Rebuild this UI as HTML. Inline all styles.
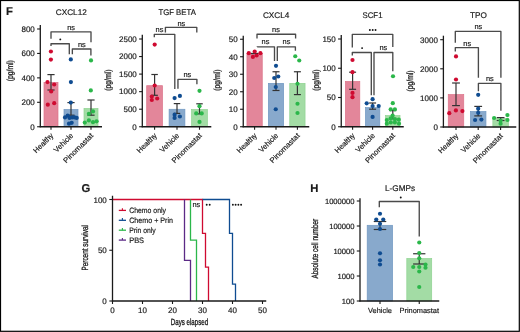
<!DOCTYPE html>
<html><head><meta charset="utf-8"><style>
html,body{margin:0;padding:0;background:#fff;}
body{width:520px;height:332px;overflow:hidden;}
svg{display:block;will-change:transform;}
text{font-family:"Liberation Sans",sans-serif;text-rendering:geometricPrecision;stroke:#1a1a1a;stroke-width:0.18px;}
</style></head><body>
<svg width="520" height="332" viewBox="0 0 520 332">
<rect x="0" y="0" width="520" height="332" fill="#fff"/>
<rect x="44.0" y="82.3748" width="14.0" height="44.37520000000001" fill="#e3869a" stroke="#dc7389" stroke-width="0.7"/>
<rect x="64.0" y="109.50319999999999" width="14.0" height="17.246800000000007" fill="#88a9cc" stroke="#7098c2" stroke-width="0.7"/>
<rect x="84.0" y="108.45228" width="14.0" height="18.297719999999998" fill="#a3dca5" stroke="#8fd391" stroke-width="0.7"/>
<line x1="51" y1="74.6" x2="51" y2="90.0" stroke="#333333" stroke-width="1.2" />
<line x1="47.4" y1="74.6" x2="54.6" y2="74.6" stroke="#333333" stroke-width="1.2" />
<line x1="47.4" y1="90.0" x2="54.6" y2="90.0" stroke="#333333" stroke-width="1.2" />
<line x1="71" y1="102.6" x2="71" y2="115.2" stroke="#333333" stroke-width="1.2" />
<line x1="67.4" y1="102.6" x2="74.6" y2="102.6" stroke="#333333" stroke-width="1.2" />
<line x1="67.4" y1="115.2" x2="74.6" y2="115.2" stroke="#333333" stroke-width="1.2" />
<line x1="91" y1="100.0" x2="91" y2="115.2" stroke="#333333" stroke-width="1.2" />
<line x1="87.4" y1="100.0" x2="94.6" y2="100.0" stroke="#333333" stroke-width="1.2" />
<line x1="87.4" y1="115.2" x2="94.6" y2="115.2" stroke="#333333" stroke-width="1.2" />
<circle cx="50.9" cy="51.5" r="2.1" fill="#cf0a30"/>
<circle cx="50.9" cy="59.6" r="2.1" fill="#cf0a30"/>
<circle cx="47.5" cy="82.1" r="2.1" fill="#cf0a30"/>
<circle cx="54.2" cy="84.5" r="2.1" fill="#cf0a30"/>
<circle cx="51.2" cy="91.4" r="2.1" fill="#cf0a30"/>
<circle cx="47.8" cy="104.7" r="2.1" fill="#cf0a30"/>
<circle cx="54.2" cy="103.2" r="2.1" fill="#cf0a30"/>
<circle cx="70.8" cy="59.4" r="2.1" fill="#0f4c91"/>
<circle cx="70.9" cy="82.1" r="2.1" fill="#0f4c91"/>
<circle cx="70.8" cy="102.6" r="2.1" fill="#0f4c91"/>
<circle cx="65" cy="117.4" r="2.1" fill="#0f4c91"/>
<circle cx="67.7" cy="115.6" r="2.1" fill="#0f4c91"/>
<circle cx="69.5" cy="117.9" r="2.1" fill="#0f4c91"/>
<circle cx="72.2" cy="117.4" r="2.1" fill="#0f4c91"/>
<circle cx="74.5" cy="117.4" r="2.1" fill="#0f4c91"/>
<circle cx="76.7" cy="117.9" r="2.1" fill="#0f4c91"/>
<circle cx="69" cy="123.7" r="2.1" fill="#0f4c91"/>
<circle cx="71.7" cy="122.8" r="2.1" fill="#0f4c91"/>
<circle cx="91" cy="60.4" r="2.1" fill="#2bb74a"/>
<circle cx="90.8" cy="90.4" r="2.1" fill="#2bb74a"/>
<circle cx="93" cy="111.4" r="2.1" fill="#2bb74a"/>
<circle cx="88.9" cy="113.8" r="2.1" fill="#2bb74a"/>
<circle cx="84.8" cy="122.6" r="2.1" fill="#2bb74a"/>
<circle cx="88.9" cy="120.4" r="2.1" fill="#2bb74a"/>
<circle cx="93" cy="122.2" r="2.1" fill="#2bb74a"/>
<circle cx="96.6" cy="121.3" r="2.1" fill="#2bb74a"/>
<line x1="40.3" y1="25" x2="40.3" y2="127.35" stroke="#1a1a1a" stroke-width="1.3" />
<line x1="39.699999999999996" y1="126.75" x2="102" y2="126.75" stroke="#1a1a1a" stroke-width="1.4" />
<line x1="37.099999999999994" y1="126.75" x2="40.3" y2="126.75" stroke="#1a1a1a" stroke-width="1.1" />
<text x="34.8" y="129.55" font-size="8.0" text-anchor="end" fill="#1a1a1a" font-weight="normal">0</text>
<line x1="37.099999999999994" y1="102.31" x2="40.3" y2="102.31" stroke="#1a1a1a" stroke-width="1.1" />
<text x="34.8" y="105.11" font-size="8.0" text-anchor="end" fill="#1a1a1a" font-weight="normal">200</text>
<line x1="37.099999999999994" y1="77.87" x2="40.3" y2="77.87" stroke="#1a1a1a" stroke-width="1.1" />
<text x="34.8" y="80.67" font-size="8.0" text-anchor="end" fill="#1a1a1a" font-weight="normal">400</text>
<line x1="37.099999999999994" y1="53.42999999999999" x2="40.3" y2="53.42999999999999" stroke="#1a1a1a" stroke-width="1.1" />
<text x="34.8" y="56.22999999999999" font-size="8.0" text-anchor="end" fill="#1a1a1a" font-weight="normal">600</text>
<line x1="37.099999999999994" y1="28.989999999999995" x2="40.3" y2="28.989999999999995" stroke="#1a1a1a" stroke-width="1.1" />
<text x="34.8" y="31.789999999999996" font-size="8.0" text-anchor="end" fill="#1a1a1a" font-weight="normal">800</text>
<line x1="51" y1="126.75" x2="51" y2="129.75" stroke="#1a1a1a" stroke-width="1.1" />
<line x1="71" y1="126.75" x2="71" y2="129.75" stroke="#1a1a1a" stroke-width="1.1" />
<line x1="91" y1="126.75" x2="91" y2="129.75" stroke="#1a1a1a" stroke-width="1.1" />
<path d="M51.0,38.8 V31.9 H91.0 V42.2" stroke="#4a4a4a" stroke-width="1.35" fill="none" stroke-linejoin="round"/>
<path d="M51.0,46 V43.7 H69.3 V54.3" stroke="#4a4a4a" stroke-width="1.35" fill="none" stroke-linejoin="round"/>
<path d="M72.35,54.3 V49.0 H90.9 V55.5" stroke="#4a4a4a" stroke-width="1.35" fill="none" stroke-linejoin="round"/>
<text x="71.1" y="29.5" font-size="7.4" text-anchor="middle" fill="#1a1a1a" font-weight="normal">ns</text>
<circle cx="60.30" cy="39.4" r="0.95" fill="#111"/>
<text x="81.8" y="46.6" font-size="7.4" text-anchor="middle" fill="#1a1a1a" font-weight="normal">ns</text>
<text x="71.3" y="14.5" font-size="8.2" text-anchor="middle" fill="#1a1a1a" font-weight="normal">CXCL12</text>
<text x="0" y="0" font-size="8.8" text-anchor="middle" fill="#1a1a1a" textLength="21.2" lengthAdjust="spacingAndGlyphs" transform="translate(13.4,70.75) rotate(-90)" style="stroke-width:0.32px">(pg/ml)</text>
<text x="0" y="0" font-size="7.5" text-anchor="end" fill="#1a1a1a" textLength="24.8" lengthAdjust="spacingAndGlyphs" transform="translate(53.8,136.05) rotate(-45)">Healthy</text>
<text x="0" y="0" font-size="7.5" text-anchor="end" fill="#1a1a1a" textLength="24.0" lengthAdjust="spacingAndGlyphs" transform="translate(73.8,136.05) rotate(-45)">Vehicle</text>
<text x="0" y="0" font-size="7.5" text-anchor="end" fill="#1a1a1a" textLength="38.8" lengthAdjust="spacingAndGlyphs" transform="translate(93.8,136.05) rotate(-45)">Pinomastat</text>
<rect x="146.7" y="85.68199999999999" width="15.8" height="41.06800000000001" fill="#e3869a" stroke="#dc7389" stroke-width="0.7"/>
<rect x="169.1" y="109.2692" width="15.8" height="17.480800000000002" fill="#88a9cc" stroke="#7098c2" stroke-width="0.7"/>
<rect x="191.6" y="109.55" width="15.8" height="17.200000000000003" fill="#a3dca5" stroke="#8fd391" stroke-width="0.7"/>
<line x1="154.6" y1="74.5" x2="154.6" y2="95.3" stroke="#333333" stroke-width="1.2" />
<line x1="151.35" y1="74.5" x2="157.85" y2="74.5" stroke="#333333" stroke-width="1.2" />
<line x1="151.35" y1="95.3" x2="157.85" y2="95.3" stroke="#333333" stroke-width="1.2" />
<line x1="177" y1="103.6" x2="177" y2="113.4" stroke="#333333" stroke-width="1.2" />
<line x1="173.75" y1="103.6" x2="180.25" y2="103.6" stroke="#333333" stroke-width="1.2" />
<line x1="173.75" y1="113.4" x2="180.25" y2="113.4" stroke="#333333" stroke-width="1.2" />
<line x1="199.5" y1="103.8" x2="199.5" y2="113.9" stroke="#333333" stroke-width="1.2" />
<line x1="196.25" y1="103.8" x2="202.75" y2="103.8" stroke="#333333" stroke-width="1.2" />
<line x1="196.25" y1="113.9" x2="202.75" y2="113.9" stroke="#333333" stroke-width="1.2" />
<circle cx="154.7" cy="44.6" r="2.1" fill="#cf0a30"/>
<circle cx="154.7" cy="85.5" r="2.1" fill="#cf0a30"/>
<circle cx="151.8" cy="96.6" r="2.1" fill="#cf0a30"/>
<circle cx="157.2" cy="98.5" r="2.1" fill="#cf0a30"/>
<circle cx="151.8" cy="100" r="2.1" fill="#cf0a30"/>
<circle cx="174.6" cy="98.1" r="2.1" fill="#0f4c91"/>
<circle cx="179.9" cy="95.9" r="2.1" fill="#0f4c91"/>
<circle cx="174.6" cy="114.7" r="2.1" fill="#0f4c91"/>
<circle cx="179.9" cy="116.5" r="2.1" fill="#0f4c91"/>
<circle cx="174.6" cy="117.9" r="2.1" fill="#0f4c91"/>
<circle cx="199.5" cy="90.8" r="2.1" fill="#2bb74a"/>
<circle cx="199.5" cy="106.2" r="2.1" fill="#2bb74a"/>
<circle cx="196.2" cy="113.4" r="2.1" fill="#2bb74a"/>
<circle cx="201.7" cy="113.4" r="2.1" fill="#2bb74a"/>
<circle cx="199.5" cy="121.9" r="2.1" fill="#2bb74a"/>
<line x1="142.3" y1="34.8" x2="142.3" y2="127.35" stroke="#1a1a1a" stroke-width="1.3" />
<line x1="141.70000000000002" y1="126.75" x2="211.3" y2="126.75" stroke="#1a1a1a" stroke-width="1.4" />
<line x1="139.10000000000002" y1="126.75" x2="142.3" y2="126.75" stroke="#1a1a1a" stroke-width="1.1" />
<text x="136.8" y="129.55" font-size="8.0" text-anchor="end" fill="#1a1a1a" font-weight="normal">0</text>
<line x1="139.10000000000002" y1="109.2" x2="142.3" y2="109.2" stroke="#1a1a1a" stroke-width="1.1" />
<text x="136.8" y="112.0" font-size="8.0" text-anchor="end" fill="#1a1a1a" font-weight="normal">500</text>
<line x1="139.10000000000002" y1="91.65" x2="142.3" y2="91.65" stroke="#1a1a1a" stroke-width="1.1" />
<text x="136.8" y="94.45" font-size="8.0" text-anchor="end" fill="#1a1a1a" font-weight="normal">1000</text>
<line x1="139.10000000000002" y1="74.1" x2="142.3" y2="74.1" stroke="#1a1a1a" stroke-width="1.1" />
<text x="136.8" y="76.89999999999999" font-size="8.0" text-anchor="end" fill="#1a1a1a" font-weight="normal">1500</text>
<line x1="139.10000000000002" y1="56.55" x2="142.3" y2="56.55" stroke="#1a1a1a" stroke-width="1.1" />
<text x="136.8" y="59.349999999999994" font-size="8.0" text-anchor="end" fill="#1a1a1a" font-weight="normal">2000</text>
<line x1="139.10000000000002" y1="39.0" x2="142.3" y2="39.0" stroke="#1a1a1a" stroke-width="1.1" />
<text x="136.8" y="41.8" font-size="8.0" text-anchor="end" fill="#1a1a1a" font-weight="normal">2500</text>
<line x1="154.6" y1="126.75" x2="154.6" y2="129.75" stroke="#1a1a1a" stroke-width="1.1" />
<line x1="177" y1="126.75" x2="177" y2="129.75" stroke="#1a1a1a" stroke-width="1.1" />
<line x1="199.5" y1="126.75" x2="199.5" y2="129.75" stroke="#1a1a1a" stroke-width="1.1" />
<path d="M154.3,37.2 V34.3 H174.8 V89.0" stroke="#4a4a4a" stroke-width="1.35" fill="none" stroke-linejoin="round"/>
<path d="M165.4,32.4 V27.3 H196.8 V32.4" stroke="#4a4a4a" stroke-width="1.35" fill="none" stroke-linejoin="round"/>
<path d="M177.95,88.8 V79.3 H196.9 V84.3" stroke="#4a4a4a" stroke-width="1.35" fill="none" stroke-linejoin="round"/>
<text x="159.5" y="32.1" font-size="7.4" text-anchor="middle" fill="#1a1a1a" font-weight="normal">ns</text>
<text x="181.4" y="25.6" font-size="7.4" text-anchor="middle" fill="#1a1a1a" font-weight="normal">ns</text>
<text x="187.3" y="77.2" font-size="7.4" text-anchor="middle" fill="#1a1a1a" font-weight="normal">ns</text>
<text x="0" y="0" font-size="8.2" text-anchor="middle" fill="#1a1a1a" textLength="37.4" lengthAdjust="spacingAndGlyphs" transform="translate(177.1,14.8) rotate(0)">TGF BETA</text>
<text x="0" y="0" font-size="8.8" text-anchor="middle" fill="#1a1a1a" textLength="21.2" lengthAdjust="spacingAndGlyphs" transform="translate(111.4,80.2) rotate(-90)" style="stroke-width:0.32px">(pg/ml)</text>
<text x="0" y="0" font-size="7.5" text-anchor="end" fill="#1a1a1a" textLength="24.8" lengthAdjust="spacingAndGlyphs" transform="translate(157.4,136.05) rotate(-45)">Healthy</text>
<text x="0" y="0" font-size="7.5" text-anchor="end" fill="#1a1a1a" textLength="24.0" lengthAdjust="spacingAndGlyphs" transform="translate(179.8,136.05) rotate(-45)">Vehicle</text>
<text x="0" y="0" font-size="7.5" text-anchor="end" fill="#1a1a1a" textLength="38.8" lengthAdjust="spacingAndGlyphs" transform="translate(202.3,136.05) rotate(-45)">Pinomastat</text>
<rect x="246.95" y="53.6" width="15.3" height="73.15" fill="#e3869a" stroke="#dc7389" stroke-width="0.7"/>
<rect x="268.35" y="83.35" width="15.3" height="43.400000000000006" fill="#88a9cc" stroke="#7098c2" stroke-width="0.7"/>
<rect x="289.75" y="83.35" width="15.3" height="43.400000000000006" fill="#a3dca5" stroke="#8fd391" stroke-width="0.7"/>
<line x1="254.6" y1="53.5" x2="254.6" y2="53.5" stroke="#333333" stroke-width="1.2" />
<line x1="251.1" y1="53.5" x2="258.1" y2="53.5" stroke="#333333" stroke-width="1.2" />
<line x1="251.1" y1="53.5" x2="258.1" y2="53.5" stroke="#333333" stroke-width="1.2" />
<line x1="276" y1="71.75" x2="276" y2="90.5" stroke="#333333" stroke-width="1.2" />
<line x1="272.5" y1="71.75" x2="279.5" y2="71.75" stroke="#333333" stroke-width="1.2" />
<line x1="272.5" y1="90.5" x2="279.5" y2="90.5" stroke="#333333" stroke-width="1.2" />
<line x1="297.4" y1="71.75" x2="297.4" y2="94.6" stroke="#333333" stroke-width="1.2" />
<line x1="293.9" y1="71.75" x2="300.9" y2="71.75" stroke="#333333" stroke-width="1.2" />
<line x1="293.9" y1="94.6" x2="300.9" y2="94.6" stroke="#333333" stroke-width="1.2" />
<circle cx="248.8" cy="53.2" r="2.1" fill="#cf0a30"/>
<circle cx="254.7" cy="51.5" r="2.1" fill="#cf0a30"/>
<circle cx="260.4" cy="53.2" r="2.1" fill="#cf0a30"/>
<circle cx="252.9" cy="56.9" r="2.1" fill="#cf0a30"/>
<circle cx="256.6" cy="55.5" r="2.1" fill="#cf0a30"/>
<circle cx="276" cy="65.8" r="2.1" fill="#0f4c91"/>
<circle cx="274.25" cy="78" r="2.1" fill="#0f4c91"/>
<circle cx="278.25" cy="76.5" r="2.1" fill="#0f4c91"/>
<circle cx="275.75" cy="87" r="2.1" fill="#0f4c91"/>
<circle cx="275.75" cy="109.25" r="2.1" fill="#0f4c91"/>
<circle cx="295.25" cy="56.25" r="2.1" fill="#2bb74a"/>
<circle cx="299.25" cy="60.5" r="2.1" fill="#2bb74a"/>
<circle cx="297.5" cy="83.75" r="2.1" fill="#2bb74a"/>
<circle cx="297.5" cy="103.75" r="2.1" fill="#2bb74a"/>
<circle cx="297.5" cy="113" r="2.1" fill="#2bb74a"/>
<line x1="243.25" y1="35.75" x2="243.25" y2="127.35" stroke="#1a1a1a" stroke-width="1.3" />
<line x1="242.65" y1="126.75" x2="309.25" y2="126.75" stroke="#1a1a1a" stroke-width="1.4" />
<line x1="240.05" y1="126.75" x2="243.25" y2="126.75" stroke="#1a1a1a" stroke-width="1.1" />
<text x="237.75" y="129.55" font-size="8.0" text-anchor="end" fill="#1a1a1a" font-weight="normal">0</text>
<line x1="240.05" y1="109.25" x2="243.25" y2="109.25" stroke="#1a1a1a" stroke-width="1.1" />
<text x="237.75" y="112.05" font-size="8.0" text-anchor="end" fill="#1a1a1a" font-weight="normal">10</text>
<line x1="240.05" y1="91.75" x2="243.25" y2="91.75" stroke="#1a1a1a" stroke-width="1.1" />
<text x="237.75" y="94.55" font-size="8.0" text-anchor="end" fill="#1a1a1a" font-weight="normal">20</text>
<line x1="240.05" y1="74.25" x2="243.25" y2="74.25" stroke="#1a1a1a" stroke-width="1.1" />
<text x="237.75" y="77.05" font-size="8.0" text-anchor="end" fill="#1a1a1a" font-weight="normal">30</text>
<line x1="240.05" y1="56.75" x2="243.25" y2="56.75" stroke="#1a1a1a" stroke-width="1.1" />
<text x="237.75" y="59.55" font-size="8.0" text-anchor="end" fill="#1a1a1a" font-weight="normal">40</text>
<line x1="240.05" y1="39.25" x2="243.25" y2="39.25" stroke="#1a1a1a" stroke-width="1.1" />
<text x="237.75" y="42.05" font-size="8.0" text-anchor="end" fill="#1a1a1a" font-weight="normal">50</text>
<line x1="254.6" y1="126.75" x2="254.6" y2="129.75" stroke="#1a1a1a" stroke-width="1.1" />
<line x1="276" y1="126.75" x2="276" y2="129.75" stroke="#1a1a1a" stroke-width="1.1" />
<line x1="297.4" y1="126.75" x2="297.4" y2="129.75" stroke="#1a1a1a" stroke-width="1.1" />
<path d="M257,38.6 V34.2 H295.6 V38.6" stroke="#4a4a4a" stroke-width="1.35" fill="none" stroke-linejoin="round"/>
<path d="M257.2,47.0 V46.8 H274.5 V61" stroke="#4a4a4a" stroke-width="1.35" fill="none" stroke-linejoin="round"/>
<path d="M277.3,61 V46.8 H295.4 V50.8" stroke="#4a4a4a" stroke-width="1.35" fill="none" stroke-linejoin="round"/>
<text x="276" y="32.2" font-size="7.4" text-anchor="middle" fill="#1a1a1a" font-weight="normal">ns</text>
<text x="265.5" y="44.4" font-size="7.4" text-anchor="middle" fill="#1a1a1a" font-weight="normal">ns</text>
<text x="286.5" y="44.4" font-size="7.4" text-anchor="middle" fill="#1a1a1a" font-weight="normal">ns</text>
<text x="276.1" y="17.9" font-size="8.2" text-anchor="middle" fill="#1a1a1a" font-weight="normal">CXCL4</text>
<text x="0" y="0" font-size="8.8" text-anchor="middle" fill="#1a1a1a" textLength="21.2" lengthAdjust="spacingAndGlyphs" transform="translate(220.4,80.2) rotate(-90)" style="stroke-width:0.32px">(pg/ml)</text>
<text x="0" y="0" font-size="7.5" text-anchor="end" fill="#1a1a1a" textLength="24.8" lengthAdjust="spacingAndGlyphs" transform="translate(257.4,136.05) rotate(-45)">Healthy</text>
<text x="0" y="0" font-size="7.5" text-anchor="end" fill="#1a1a1a" textLength="24.0" lengthAdjust="spacingAndGlyphs" transform="translate(278.8,136.05) rotate(-45)">Vehicle</text>
<text x="0" y="0" font-size="7.5" text-anchor="end" fill="#1a1a1a" textLength="38.8" lengthAdjust="spacingAndGlyphs" transform="translate(300.2,136.05) rotate(-45)">Pinomastat</text>
<rect x="345.40000000000003" y="81.47" width="14.4" height="45.28" fill="#e3869a" stroke="#dc7389" stroke-width="0.7"/>
<rect x="365.40000000000003" y="107.6195" width="14.4" height="19.130499999999998" fill="#88a9cc" stroke="#7098c2" stroke-width="0.7"/>
<rect x="385.6" y="115.57549999999999" width="14.4" height="11.174500000000009" fill="#a3dca5" stroke="#8fd391" stroke-width="0.7"/>
<line x1="352.6" y1="72.2" x2="352.6" y2="89.3" stroke="#333333" stroke-width="1.2" />
<line x1="349.1" y1="72.2" x2="356.1" y2="72.2" stroke="#333333" stroke-width="1.2" />
<line x1="349.1" y1="89.3" x2="356.1" y2="89.3" stroke="#333333" stroke-width="1.2" />
<line x1="372.6" y1="103" x2="372.6" y2="109.2" stroke="#333333" stroke-width="1.2" />
<line x1="369.1" y1="103" x2="376.1" y2="103" stroke="#333333" stroke-width="1.2" />
<line x1="369.1" y1="109.2" x2="376.1" y2="109.2" stroke="#333333" stroke-width="1.2" />
<line x1="392.8" y1="110.6" x2="392.8" y2="118.8" stroke="#333333" stroke-width="1.2" />
<line x1="389.3" y1="110.6" x2="396.3" y2="110.6" stroke="#333333" stroke-width="1.2" />
<line x1="389.3" y1="118.8" x2="396.3" y2="118.8" stroke="#333333" stroke-width="1.2" />
<circle cx="352.5" cy="60" r="2.1" fill="#cf0a30"/>
<circle cx="352.5" cy="72.2" r="2.1" fill="#cf0a30"/>
<circle cx="352.5" cy="92.9" r="2.1" fill="#cf0a30"/>
<circle cx="352.5" cy="97.2" r="2.1" fill="#cf0a30"/>
<circle cx="372.6" cy="99.2" r="2.1" fill="#0f4c91"/>
<circle cx="366.7" cy="103.3" r="2.1" fill="#0f4c91"/>
<circle cx="372.6" cy="106" r="2.1" fill="#0f4c91"/>
<circle cx="378.7" cy="106" r="2.1" fill="#0f4c91"/>
<circle cx="372.6" cy="116.9" r="2.1" fill="#0f4c91"/>
<circle cx="393" cy="76.25" r="2.1" fill="#2bb74a"/>
<circle cx="392.8" cy="103.2" r="2.1" fill="#2bb74a"/>
<circle cx="390.7" cy="109.3" r="2.1" fill="#2bb74a"/>
<circle cx="394.9" cy="109.3" r="2.1" fill="#2bb74a"/>
<circle cx="392.6" cy="115.6" r="2.1" fill="#2bb74a"/>
<circle cx="386.8" cy="120.1" r="2.1" fill="#2bb74a"/>
<circle cx="390.7" cy="118.3" r="2.1" fill="#2bb74a"/>
<circle cx="394.9" cy="119.2" r="2.1" fill="#2bb74a"/>
<circle cx="398.8" cy="119.7" r="2.1" fill="#2bb74a"/>
<circle cx="386.8" cy="123.7" r="2.1" fill="#2bb74a"/>
<circle cx="390.8" cy="122.4" r="2.1" fill="#2bb74a"/>
<circle cx="394.9" cy="122.4" r="2.1" fill="#2bb74a"/>
<circle cx="399" cy="123.7" r="2.1" fill="#2bb74a"/>
<line x1="341.25" y1="35" x2="341.25" y2="127.35" stroke="#1a1a1a" stroke-width="1.3" />
<line x1="340.65" y1="126.75" x2="403.75" y2="126.75" stroke="#1a1a1a" stroke-width="1.4" />
<line x1="338.05" y1="126.75" x2="341.25" y2="126.75" stroke="#1a1a1a" stroke-width="1.1" />
<text x="335.75" y="129.55" font-size="8.0" text-anchor="end" fill="#1a1a1a" font-weight="normal">0</text>
<line x1="338.05" y1="97.5" x2="341.25" y2="97.5" stroke="#1a1a1a" stroke-width="1.1" />
<text x="335.75" y="100.3" font-size="8.0" text-anchor="end" fill="#1a1a1a" font-weight="normal">50</text>
<line x1="338.05" y1="68.25" x2="341.25" y2="68.25" stroke="#1a1a1a" stroke-width="1.1" />
<text x="335.75" y="71.05" font-size="8.0" text-anchor="end" fill="#1a1a1a" font-weight="normal">100</text>
<line x1="338.05" y1="39.0" x2="341.25" y2="39.0" stroke="#1a1a1a" stroke-width="1.1" />
<text x="335.75" y="41.8" font-size="8.0" text-anchor="end" fill="#1a1a1a" font-weight="normal">150</text>
<line x1="352.6" y1="126.75" x2="352.6" y2="129.75" stroke="#1a1a1a" stroke-width="1.1" />
<line x1="372.6" y1="126.75" x2="372.6" y2="129.75" stroke="#1a1a1a" stroke-width="1.1" />
<line x1="392.8" y1="126.75" x2="392.8" y2="129.75" stroke="#1a1a1a" stroke-width="1.1" />
<path d="M352.3,47.6 V34.3 H392.8 V47.1" stroke="#4a4a4a" stroke-width="1.35" fill="none" stroke-linejoin="round"/>
<path d="M352.3,55.5 V52.5 H371.3 V95.2" stroke="#4a4a4a" stroke-width="1.35" fill="none" stroke-linejoin="round"/>
<path d="M374.0,95.2 V52.5 H392.8 V71.25" stroke="#4a4a4a" stroke-width="1.35" fill="none" stroke-linejoin="round"/>
<circle cx="369.85" cy="30" r="0.95" fill="#111"/>
<circle cx="372.70" cy="30" r="0.95" fill="#111"/>
<circle cx="375.55" cy="30" r="0.95" fill="#111"/>
<circle cx="362.10" cy="48.1" r="0.95" fill="#111"/>
<text x="383.3" y="50.2" font-size="7.4" text-anchor="middle" fill="#1a1a1a" font-weight="normal">ns</text>
<text x="0" y="0" font-size="8.2" text-anchor="middle" fill="#1a1a1a" textLength="20.0" lengthAdjust="spacingAndGlyphs" transform="translate(372.5,17.7) rotate(0)">SCF1</text>
<text x="0" y="0" font-size="8.8" text-anchor="middle" fill="#1a1a1a" textLength="21.2" lengthAdjust="spacingAndGlyphs" transform="translate(318.8,80.2) rotate(-90)" style="stroke-width:0.32px">(pg/ml)</text>
<text x="0" y="0" font-size="7.5" text-anchor="end" fill="#1a1a1a" textLength="24.8" lengthAdjust="spacingAndGlyphs" transform="translate(355.40000000000003,136.05) rotate(-45)">Healthy</text>
<text x="0" y="0" font-size="7.5" text-anchor="end" fill="#1a1a1a" textLength="24.0" lengthAdjust="spacingAndGlyphs" transform="translate(375.40000000000003,136.05) rotate(-45)">Vehicle</text>
<text x="0" y="0" font-size="7.5" text-anchor="end" fill="#1a1a1a" textLength="38.8" lengthAdjust="spacingAndGlyphs" transform="translate(395.6,136.05) rotate(-45)">Pinomastat</text>
<rect x="448.25" y="94.55" width="15.5" height="32.45" fill="#e3869a" stroke="#dc7389" stroke-width="0.7"/>
<rect x="470.45" y="111.55" width="15.5" height="15.450000000000003" fill="#88a9cc" stroke="#7098c2" stroke-width="0.7"/>
<rect x="492.85" y="118.55" width="15.5" height="8.450000000000003" fill="#a3dca5" stroke="#8fd391" stroke-width="0.7"/>
<line x1="456" y1="83" x2="456" y2="105.6" stroke="#333333" stroke-width="1.2" />
<line x1="452.1" y1="83" x2="459.9" y2="83" stroke="#333333" stroke-width="1.2" />
<line x1="452.1" y1="105.6" x2="459.9" y2="105.6" stroke="#333333" stroke-width="1.2" />
<line x1="478.2" y1="106.4" x2="478.2" y2="115.9" stroke="#333333" stroke-width="1.2" />
<line x1="474.3" y1="106.4" x2="482.09999999999997" y2="106.4" stroke="#333333" stroke-width="1.2" />
<line x1="474.3" y1="115.9" x2="482.09999999999997" y2="115.9" stroke="#333333" stroke-width="1.2" />
<line x1="500.6" y1="117.6" x2="500.6" y2="120.5" stroke="#333333" stroke-width="1.2" />
<line x1="496.70000000000005" y1="117.6" x2="504.5" y2="117.6" stroke="#333333" stroke-width="1.2" />
<line x1="496.70000000000005" y1="120.5" x2="504.5" y2="120.5" stroke="#333333" stroke-width="1.2" />
<circle cx="456" cy="56.4" r="2.1" fill="#cf0a30"/>
<circle cx="456" cy="79.5" r="2.1" fill="#cf0a30"/>
<circle cx="449.3" cy="113.2" r="2.1" fill="#cf0a30"/>
<circle cx="455.9" cy="110.4" r="2.1" fill="#cf0a30"/>
<circle cx="462.4" cy="111.1" r="2.1" fill="#cf0a30"/>
<circle cx="478.2" cy="94.8" r="2.1" fill="#0f4c91"/>
<circle cx="478.2" cy="108.7" r="2.1" fill="#0f4c91"/>
<circle cx="478.2" cy="112.8" r="2.1" fill="#0f4c91"/>
<circle cx="475.1" cy="120" r="2.1" fill="#0f4c91"/>
<circle cx="481.4" cy="119.6" r="2.1" fill="#0f4c91"/>
<circle cx="494.1" cy="118" r="2.1" fill="#2bb74a"/>
<circle cx="507.4" cy="115.1" r="2.1" fill="#2bb74a"/>
<circle cx="507.4" cy="120" r="2.1" fill="#2bb74a"/>
<circle cx="500.6" cy="120.5" r="2.1" fill="#2bb74a"/>
<circle cx="500.6" cy="123.7" r="2.1" fill="#2bb74a"/>
<line x1="443.4" y1="35.7" x2="443.4" y2="127.6" stroke="#1a1a1a" stroke-width="1.3" />
<line x1="442.79999999999995" y1="127.0" x2="516.25" y2="127.0" stroke="#1a1a1a" stroke-width="1.4" />
<line x1="440.2" y1="127.0" x2="443.4" y2="127.0" stroke="#1a1a1a" stroke-width="1.1" />
<text x="437.9" y="129.8" font-size="8.0" text-anchor="end" fill="#1a1a1a" font-weight="normal">0</text>
<line x1="440.2" y1="97.9" x2="443.4" y2="97.9" stroke="#1a1a1a" stroke-width="1.1" />
<text x="437.9" y="100.7" font-size="8.0" text-anchor="end" fill="#1a1a1a" font-weight="normal">1000</text>
<line x1="440.2" y1="68.8" x2="443.4" y2="68.8" stroke="#1a1a1a" stroke-width="1.1" />
<text x="437.9" y="71.6" font-size="8.0" text-anchor="end" fill="#1a1a1a" font-weight="normal">2000</text>
<line x1="440.2" y1="39.7" x2="443.4" y2="39.7" stroke="#1a1a1a" stroke-width="1.1" />
<text x="437.9" y="42.5" font-size="8.0" text-anchor="end" fill="#1a1a1a" font-weight="normal">3000</text>
<line x1="456" y1="127.0" x2="456" y2="130.0" stroke="#1a1a1a" stroke-width="1.1" />
<line x1="478.2" y1="127.0" x2="478.2" y2="130.0" stroke="#1a1a1a" stroke-width="1.1" />
<line x1="500.6" y1="127.0" x2="500.6" y2="130.0" stroke="#1a1a1a" stroke-width="1.1" />
<path d="M455.3,42.8 V31.4 H500.9 V77.7" stroke="#4a4a4a" stroke-width="1.35" fill="none" stroke-linejoin="round"/>
<path d="M455.3,51.6 V47.6 H478.4 V77.7" stroke="#4a4a4a" stroke-width="1.35" fill="none" stroke-linejoin="round"/>
<path d="M478.4,91.3 V83.4 H500.9 V110.8" stroke="#4a4a4a" stroke-width="1.35" fill="none" stroke-linejoin="round"/>
<text x="478.4" y="29.4" font-size="7.4" text-anchor="middle" fill="#1a1a1a" font-weight="normal">ns</text>
<text x="467.2" y="45.8" font-size="7.4" text-anchor="middle" fill="#1a1a1a" font-weight="normal">ns</text>
<text x="489.8" y="80.8" font-size="7.4" text-anchor="middle" fill="#1a1a1a" font-weight="normal">ns</text>
<text x="478.4" y="17.9" font-size="8.2" text-anchor="middle" fill="#1a1a1a" font-weight="normal">TPO</text>
<text x="0" y="0" font-size="8.8" text-anchor="middle" fill="#1a1a1a" textLength="21.2" lengthAdjust="spacingAndGlyphs" transform="translate(413.1,81) rotate(-90)" style="stroke-width:0.32px">(pg/ml)</text>
<text x="0" y="0" font-size="7.5" text-anchor="end" fill="#1a1a1a" textLength="24.8" lengthAdjust="spacingAndGlyphs" transform="translate(458.8,136.3) rotate(-45)">Healthy</text>
<text x="0" y="0" font-size="7.5" text-anchor="end" fill="#1a1a1a" textLength="24.0" lengthAdjust="spacingAndGlyphs" transform="translate(481.0,136.3) rotate(-45)">Vehicle</text>
<text x="0" y="0" font-size="7.5" text-anchor="end" fill="#1a1a1a" textLength="38.8" lengthAdjust="spacingAndGlyphs" transform="translate(503.40000000000003,136.3) rotate(-45)">Pinomastat</text>
<text x="6.0" y="14.7" font-size="11.3" text-anchor="start" fill="#1a1a1a" font-weight="bold">F</text>
<text x="81.5" y="191.5" font-size="11.3" text-anchor="start" fill="#1a1a1a" font-weight="bold">G</text>
<text x="310.3" y="191.5" font-size="11.3" text-anchor="start" fill="#1a1a1a" font-weight="bold">H</text>
<path d="M112.5,199.5 H202.5 V233.29950000000002 H205.5 V267.20050000000003 H208.5 V301.0" stroke="#cf0a30" stroke-width="1.3" fill="none"/>
<path d="M202.5,199.5 H229.5 V233.29950000000002 H232.5 V284.0495 H235.5 V301.0" stroke="#0f4c91" stroke-width="1.3" fill="none"/>
<path d="M190.5,199.5 V240.10000000000002 H196.5 V301.0" stroke="#2bb74a" stroke-width="1.3" fill="none"/>
<path d="M184.5,199.5 V260.4 H190.5 V301.0" stroke="#5b2a86" stroke-width="1.3" fill="none"/>
<line x1="112.5" y1="195.75" x2="112.5" y2="301.6" stroke="#1a1a1a" stroke-width="1.3" />
<line x1="111.9" y1="301.0" x2="266.25" y2="301.0" stroke="#1a1a1a" stroke-width="1.4" />
<line x1="109.3" y1="301.0" x2="112.5" y2="301.0" stroke="#1a1a1a" stroke-width="1.1" />
<text x="106.8" y="304.1" font-size="8.0" text-anchor="end" fill="#1a1a1a" font-weight="normal">0</text>
<line x1="109.3" y1="250.25" x2="112.5" y2="250.25" stroke="#1a1a1a" stroke-width="1.1" />
<text x="106.8" y="253.35" font-size="8.0" text-anchor="end" fill="#1a1a1a" font-weight="normal">50</text>
<line x1="109.3" y1="199.5" x2="112.5" y2="199.5" stroke="#1a1a1a" stroke-width="1.1" />
<text x="106.8" y="202.6" font-size="8.0" text-anchor="end" fill="#1a1a1a" font-weight="normal">100</text>
<line x1="112.5" y1="301.0" x2="112.5" y2="304.0" stroke="#1a1a1a" stroke-width="1.1" />
<text x="112.5" y="313.0" font-size="8.0" text-anchor="middle" fill="#1a1a1a" font-weight="normal">0</text>
<line x1="142.5" y1="301.0" x2="142.5" y2="304.0" stroke="#1a1a1a" stroke-width="1.1" />
<text x="142.5" y="313.0" font-size="8.0" text-anchor="middle" fill="#1a1a1a" font-weight="normal">10</text>
<line x1="172.5" y1="301.0" x2="172.5" y2="304.0" stroke="#1a1a1a" stroke-width="1.1" />
<text x="172.5" y="313.0" font-size="8.0" text-anchor="middle" fill="#1a1a1a" font-weight="normal">20</text>
<line x1="202.5" y1="301.0" x2="202.5" y2="304.0" stroke="#1a1a1a" stroke-width="1.1" />
<text x="202.5" y="313.0" font-size="8.0" text-anchor="middle" fill="#1a1a1a" font-weight="normal">30</text>
<line x1="232.5" y1="301.0" x2="232.5" y2="304.0" stroke="#1a1a1a" stroke-width="1.1" />
<text x="232.5" y="313.0" font-size="8.0" text-anchor="middle" fill="#1a1a1a" font-weight="normal">40</text>
<line x1="262.5" y1="301.0" x2="262.5" y2="304.0" stroke="#1a1a1a" stroke-width="1.1" />
<text x="262.5" y="313.0" font-size="8.0" text-anchor="middle" fill="#1a1a1a" font-weight="normal">50</text>
<text x="0" y="0" font-size="9.0" text-anchor="middle" fill="#1a1a1a" textLength="45.5" lengthAdjust="spacingAndGlyphs" transform="translate(88.4,247.8) rotate(-90)" style="stroke-width:0.32px">Percent survival</text>
<text x="0" y="0" font-size="9.0" text-anchor="middle" fill="#1a1a1a" textLength="37.2" lengthAdjust="spacingAndGlyphs" transform="translate(189.45,325.1) rotate(0)" style="stroke-width:0.32px">Days elapsed</text>
<line x1="118.8" y1="210.4" x2="126.0" y2="210.4" stroke="#cf0a30" stroke-width="1.3" />
<line x1="122.4" y1="208.20000000000002" x2="122.4" y2="210.4" stroke="#cf0a30" stroke-width="1.1" />
<text x="0" y="0" font-size="7.8" text-anchor="start" fill="#1a1a1a" textLength="36.8" lengthAdjust="spacingAndGlyphs" transform="translate(129.2,212.8) rotate(0)">Chemo only</text>
<line x1="118.8" y1="220.3" x2="126.0" y2="220.3" stroke="#0f4c91" stroke-width="1.3" />
<line x1="122.4" y1="218.10000000000002" x2="122.4" y2="220.3" stroke="#0f4c91" stroke-width="1.1" />
<text x="0" y="0" font-size="7.8" text-anchor="start" fill="#1a1a1a" textLength="43.8" lengthAdjust="spacingAndGlyphs" transform="translate(129.2,222.70000000000002) rotate(0)">Chemo + Prin</text>
<line x1="118.8" y1="230.20000000000002" x2="126.0" y2="230.20000000000002" stroke="#2bb74a" stroke-width="1.3" />
<line x1="122.4" y1="228.00000000000003" x2="122.4" y2="230.20000000000002" stroke="#2bb74a" stroke-width="1.1" />
<text x="0" y="0" font-size="7.8" text-anchor="start" fill="#1a1a1a" textLength="26.5" lengthAdjust="spacingAndGlyphs" transform="translate(129.2,232.60000000000002) rotate(0)">Prin only</text>
<line x1="118.8" y1="240.10000000000002" x2="126.0" y2="240.10000000000002" stroke="#5b2a86" stroke-width="1.3" />
<line x1="122.4" y1="237.90000000000003" x2="122.4" y2="240.10000000000002" stroke="#5b2a86" stroke-width="1.1" />
<text x="0" y="0" font-size="7.8" text-anchor="start" fill="#1a1a1a" textLength="14.8" lengthAdjust="spacingAndGlyphs" transform="translate(129.2,242.50000000000003) rotate(0)">PBS</text>
<text x="196.4" y="206.8" font-size="7.4" text-anchor="middle" fill="#1a1a1a" font-weight="normal">ns</text>
<circle cx="206.70" cy="204.75" r="0.95" fill="#111"/>
<circle cx="209.70" cy="204.75" r="0.95" fill="#111"/>
<circle cx="232.88" cy="204.75" r="0.95" fill="#111"/>
<circle cx="235.62" cy="204.75" r="0.95" fill="#111"/>
<circle cx="238.38" cy="204.75" r="0.95" fill="#111"/>
<circle cx="241.12" cy="204.75" r="0.95" fill="#111"/>
<rect x="367.2" y="225.3" width="25.4" height="75.69999999999999" fill="#88a9cc" stroke="#7098c2" stroke-width="0.7"/>
<rect x="406.8" y="258.5" width="24.9" height="42.5" fill="#a3dca5" stroke="#8fd391" stroke-width="0.7"/>
<line x1="380" y1="221.5" x2="380" y2="229.5" stroke="#333333" stroke-width="1.2" />
<line x1="373.75" y1="221.5" x2="386.25" y2="221.5" stroke="#333333" stroke-width="1.2" />
<line x1="373.75" y1="229.5" x2="386.25" y2="229.5" stroke="#333333" stroke-width="1.2" />
<line x1="419.25" y1="253.75" x2="419.25" y2="264" stroke="#333333" stroke-width="1.2" />
<line x1="413.1" y1="253.75" x2="425.4" y2="253.75" stroke="#333333" stroke-width="1.2" />
<line x1="413.1" y1="264" x2="425.4" y2="264" stroke="#333333" stroke-width="1.2" />
<circle cx="380" cy="213.75" r="2.1" fill="#0f4c91"/>
<circle cx="376.25" cy="219.5" r="2.1" fill="#0f4c91"/>
<circle cx="383.25" cy="219.5" r="2.1" fill="#0f4c91"/>
<circle cx="380" cy="223.75" r="2.1" fill="#0f4c91"/>
<circle cx="380" cy="229" r="2.1" fill="#0f4c91"/>
<circle cx="380" cy="253.25" r="2.1" fill="#0f4c91"/>
<circle cx="380" cy="260.25" r="2.1" fill="#0f4c91"/>
<circle cx="380" cy="264.5" r="2.1" fill="#0f4c91"/>
<circle cx="419.25" cy="242.5" r="2.1" fill="#2bb74a"/>
<circle cx="419.25" cy="253" r="2.1" fill="#2bb74a"/>
<circle cx="419.25" cy="258.25" r="2.1" fill="#2bb74a"/>
<circle cx="413.25" cy="267" r="2.1" fill="#2bb74a"/>
<circle cx="419.25" cy="267" r="2.1" fill="#2bb74a"/>
<circle cx="425.5" cy="264.5" r="2.1" fill="#2bb74a"/>
<circle cx="425.5" cy="267.75" r="2.1" fill="#2bb74a"/>
<circle cx="419.25" cy="271.5" r="2.1" fill="#2bb74a"/>
<circle cx="419.25" cy="287" r="2.1" fill="#2bb74a"/>
<line x1="360" y1="198.25" x2="360" y2="301.6" stroke="#1a1a1a" stroke-width="1.3" />
<line x1="359.4" y1="301" x2="439.25" y2="301" stroke="#1a1a1a" stroke-width="1.4" />
<line x1="356.8" y1="201" x2="360" y2="201" stroke="#1a1a1a" stroke-width="1.1" />
<text x="354.5" y="203.7" font-size="7.6" text-anchor="end" fill="#1a1a1a" font-weight="normal">1000000</text>
<line x1="356.8" y1="226" x2="360" y2="226" stroke="#1a1a1a" stroke-width="1.1" />
<text x="354.5" y="228.7" font-size="7.6" text-anchor="end" fill="#1a1a1a" font-weight="normal">100000</text>
<line x1="356.8" y1="251" x2="360" y2="251" stroke="#1a1a1a" stroke-width="1.1" />
<text x="354.5" y="253.7" font-size="7.6" text-anchor="end" fill="#1a1a1a" font-weight="normal">10000</text>
<line x1="356.8" y1="276" x2="360" y2="276" stroke="#1a1a1a" stroke-width="1.1" />
<text x="354.5" y="278.7" font-size="7.6" text-anchor="end" fill="#1a1a1a" font-weight="normal">1000</text>
<line x1="356.8" y1="301" x2="360" y2="301" stroke="#1a1a1a" stroke-width="1.1" />
<text x="354.5" y="303.7" font-size="7.6" text-anchor="end" fill="#1a1a1a" font-weight="normal">100</text>
<line x1="380" y1="301" x2="380" y2="304" stroke="#1a1a1a" stroke-width="1.1" />
<line x1="419.25" y1="301" x2="419.25" y2="304" stroke="#1a1a1a" stroke-width="1.1" />
<text x="380" y="313.0" font-size="7.4" text-anchor="middle" fill="#1a1a1a" font-weight="normal">Vehicle</text>
<text x="419.25" y="313.0" font-size="7.4" text-anchor="middle" fill="#1a1a1a" font-weight="normal">Prinomastat</text>
<path d="M379.3,207.3 V201.5 H419.25 V236.4" stroke="#4a4a4a" stroke-width="1.35" fill="none" stroke-linejoin="round"/>
<circle cx="400.75" cy="197.5" r="0.95" fill="#111"/>
<text x="400" y="191.3" font-size="8.2" text-anchor="middle" fill="#1a1a1a" font-weight="normal">L-GMPs</text>
<text x="0" y="0" font-size="9.0" text-anchor="middle" fill="#1a1a1a" textLength="59.8" lengthAdjust="spacingAndGlyphs" transform="translate(318.2,248.7) rotate(-90)" style="stroke-width:0.32px">Absolute cell number</text>
<rect x="0.5" y="0.5" width="518.8" height="330.8" fill="none" stroke="#000" stroke-width="1.2"/>
</svg>
</body></html>
